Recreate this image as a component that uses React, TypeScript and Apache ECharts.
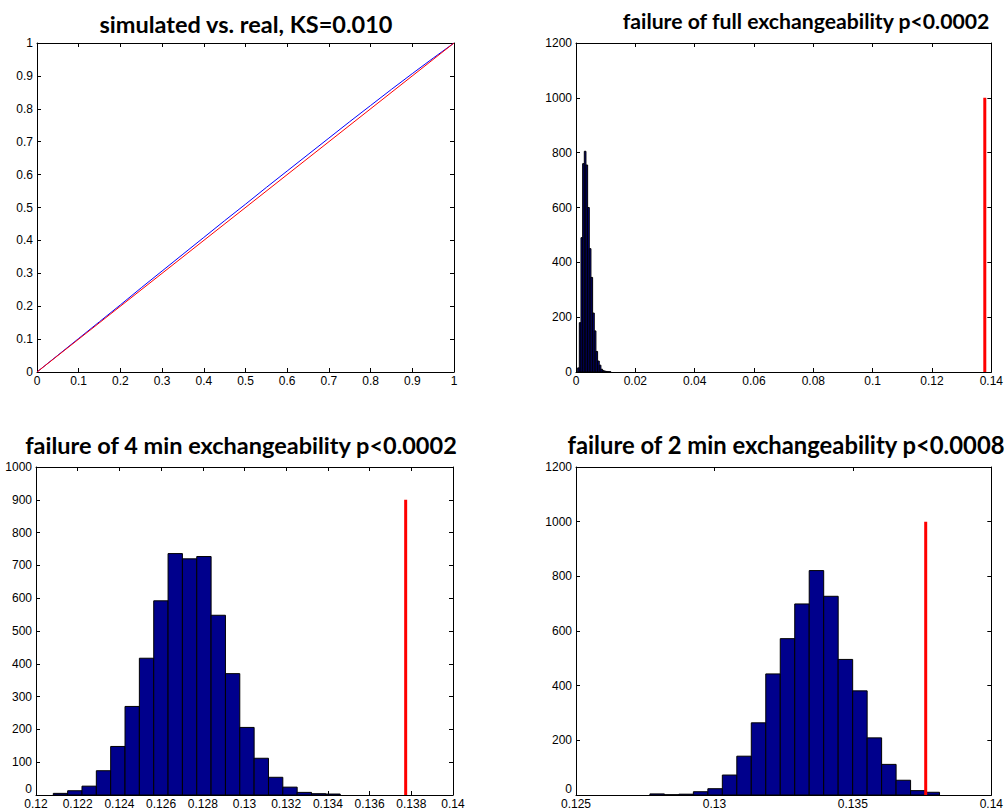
import React, { useEffect, useRef } from "react";
import * as echarts from "echarts";

// ---- data ----
const cdfX = [0, 0.05, 0.1, 0.15, 0.2, 0.25, 0.3, 0.35, 0.4, 0.45, 0.5, 0.55, 0.6, 0.65, 0.7, 0.75, 0.8, 0.85, 0.9, 0.95, 1];
const simulatedY = [0, 0.051, 0.102, 0.153, 0.204, 0.256, 0.307, 0.358, 0.409, 0.46, 0.51, 0.561, 0.611, 0.661, 0.711, 0.761, 0.81, 0.859, 0.907, 0.954, 1];
const realX = [0, 1];
const realY = [0, 1];

const fullStart = 0.00056;
const fullWidth = 0.00056;
const fullCounts = [15, 180, 490, 760, 805, 755, 600, 450, 345, 215, 150, 75, 40, 25, 10, 5, 3, 2, 1, 1];
const fullObserved = 0.1378;
const fullObservedHeight = 1000;

const min4Start = 0.12083;
const min4Width = 0.000688;
const min4Counts = [5, 13, 27, 74, 148, 270, 417, 592, 736, 720, 727, 548, 370, 206, 112, 54, 24, 8, 4, 3];
const min4Observed = 0.13773;
const min4ObservedHeight = 900;

const min2Start = 0.12767;
const min2Width = 0.000523;
const min2Counts = [4, 1, 3, 12, 23, 73, 142, 264, 443, 572, 699, 821, 727, 496, 381, 209, 112, 54, 16, 10];
const min2Observed = 0.13763;
const min2ObservedHeight = 1000;

const titles = [
  "simulated vs. real, KS=0.010",
  "failure of full exchangeability p<0.0002",
  "failure of 4 min exchangeability p<0.0002",
  "failure of 2 min exchangeability p<0.0008",
];

function bins(start: number, width: number, counts: number[]) {
  return counts.map((c, i) => [start + i * width, start + (i + 1) * width, c]);
}

const fmt = (v: number) => String(parseFloat(Number(v).toPrecision(10)));
const labelFont = { color: "#000", fontSize: 12, fontFamily: "Liberation Sans, Arial, sans-serif", formatter: fmt };

function axesFor(g: number, xmin: number, xmax: number, xint: number, ymin: number, ymax: number, yint: number, liftZero: boolean) {
  const base = {
    type: "value",
    gridIndex: g,
    axisLine: { show: true, onZero: false, lineStyle: { color: "#000", width: 1 } },
    axisTick: { show: true, inside: true, length: 4, lineStyle: { color: "#000" } },
    splitLine: { show: false },
  };
  const xs = [
    { ...base, min: xmin, max: xmax, interval: xint, position: "bottom", axisLabel: { ...labelFont, margin: 3 } },
    { ...base, min: xmin, max: xmax, interval: xint, position: "top", axisLabel: { show: false } },
  ];
  const yLabel: any = { ...labelFont, margin: 4 };
  if (liftZero) yLabel.verticalAlignMinLabel = "bottom";
  const ys = [
    { ...base, min: ymin, max: ymax, interval: yint, position: "left", axisLabel: yLabel },
    { ...base, min: ymin, max: ymax, interval: yint, position: "right", axisLabel: { show: false } },
  ];
  return { xs, ys };
}

function histSeries(g: number, data: number[][]) {
  return {
    type: "custom",
    xAxisIndex: g * 2,
    yAxisIndex: g * 2,
    clip: true,
    data,
    renderItem: (params: any, api: any) => {
      const p0 = api.coord([api.value(0), api.value(2)]);
      const p1 = api.coord([api.value(1), 0]);
      return {
        type: "rect",
        shape: { x: p0[0], y: p0[1], width: p1[0] - p0[0], height: p1[1] - p0[1] },
        style: { fill: "#00008C", stroke: "#000", lineWidth: 1 },
      };
    },
  };
}

function redLine(g: number, x: number, h: number) {
  return {
    type: "line",
    xAxisIndex: g * 2,
    yAxisIndex: g * 2,
    data: [[x, 0], [x, h]],
    symbol: "none",
    lineStyle: { color: "#FF0000", width: 3 },
  };
}

export default function App() {
  const ref = useRef<HTMLDivElement>(null);
  useEffect(() => {
    document.body.style.margin = "0";
    const chart = echarts.init(ref.current!, null, { renderer: "svg" });
    const a0 = axesFor(0, 0, 1, 0.1, 0, 1, 0.1, false);
    const a1 = axesFor(1, 0, 0.14, 0.02, 0, 1200, 200, false);
    const a2 = axesFor(2, 0.12, 0.14, 0.002, 0, 1000, 100, true);
    const a3 = axesFor(3, 0.125, 0.14, 0.005, 0, 1200, 200, true);
    const titlePos = [
      [246, 24, 23.5],
      [806, 21, 21.2],
      [241, 445, 23.5],
      [786, 445, 23.8],
    ];
    chart.setOption({
      animation: false,
      backgroundColor: "#fff",
      grid: [
        { left: 37, top: 43, width: 417, height: 329 },
        { left: 576, top: 43, width: 417, height: 329 },
        { left: 36, top: 467, width: 417, height: 328 },
        { left: 576, top: 467, width: 417, height: 328 },
      ],
      xAxis: [...a0.xs, ...a1.xs, ...a2.xs, ...a3.xs],
      yAxis: [...a0.ys, ...a1.ys, ...a2.ys, ...a3.ys],
      graphic: titles.map((t, i) => ({
        type: "text",
        x: titlePos[i][0],
        y: titlePos[i][1],
        z: 100,
        style: {
          text: t,
          font: `bold ${titlePos[i][2]}px Lato, "Open Sans", sans-serif`,
          fill: "#000",
          align: "center",
          verticalAlign: "middle",
        },
      })),
      series: [
        {
          type: "line",
          xAxisIndex: 0,
          yAxisIndex: 0,
          data: cdfX.map((x, i) => [x, simulatedY[i]]),
          symbol: "none",
          lineStyle: { color: "#0000FF", width: 1 },
        },
        {
          type: "line",
          xAxisIndex: 0,
          yAxisIndex: 0,
          data: realX.map((x, i) => [x, realY[i]]),
          symbol: "none",
          lineStyle: { color: "#FF0000", width: 1 },
        },
        histSeries(1, bins(fullStart, fullWidth, fullCounts)),
        redLine(1, fullObserved, fullObservedHeight),
        histSeries(2, bins(min4Start, min4Width, min4Counts)),
        redLine(2, min4Observed, min4ObservedHeight),
        histSeries(3, bins(min2Start, min2Width, min2Counts)),
        redLine(3, min2Observed, min2ObservedHeight),
      ],
    });
    return () => chart.dispose();
  }, []);
  return <div ref={ref} style={{ width: 1006, height: 811 }} />;
}
